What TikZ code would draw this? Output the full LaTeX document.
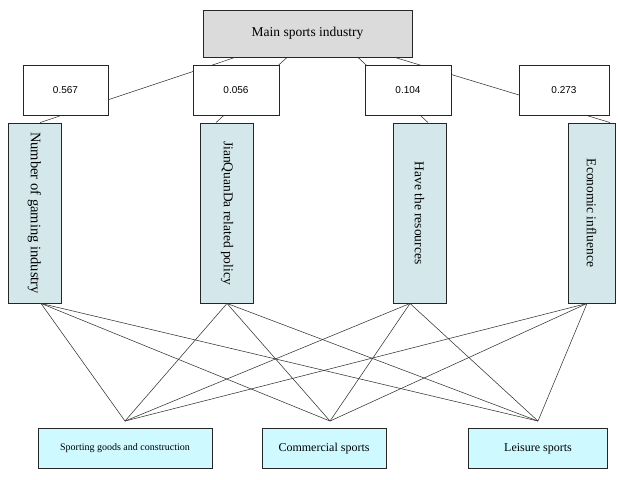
\documentclass[tikz,border=0pt]{standalone}
\usepackage{fontspec}
\setmainfont{Liberation Serif}
\newfontfamily\numfont{Liberation Sans}
\definecolor{critblue}{RGB}{212,231,235}
\definecolor{altcyan}{RGB}{206,250,255}
\tikzset{
  box/.style={draw=black!85,line width=0.9pt,inner sep=1pt,align=center},
  goal/.style={box,fill=black!14,minimum width=209pt,minimum height=47pt,font=\fontsize{13.5}{15}\selectfont},
  weight/.style={box,fill=white,minimum width=86pt,minimum height=50pt,font=\numfont\fontsize{10}{12}\selectfont},
  crit/.style={box,fill=critblue,rotate=-90,minimum width=180pt,minimum height=53pt},
  alt/.style={box,fill=altcyan,minimum height=40pt},
  link/.style={black!80,line width=0.55pt}
}
\begin{document}
\begin{tikzpicture}[x=1pt,y=-1pt]
\useasboundingbox (0,0) rectangle (618,479);
% goal and criteria
\node[goal](main)at(307.5,33.5){Main sports industry};
\node[crit,font=\fontsize{14.5}{16}\selectfont](c1)at(34.5,213){Number of gaming industry};
\node[crit,font=\fontsize{13.5}{15}\selectfont](c2)at(227,213){JianQuanDa related policy};
\node[crit,font=\fontsize{13.5}{15}\selectfont](c3)at(419.5,213){Have the resources};
\node[crit,font=\fontsize{13.5}{15}\selectfont,minimum height=47pt](c4)at(591.5,213){Economic influence};
% alternatives
\node[alt,minimum width=174pt,font=\fontsize{10}{12}\selectfont](b1)at(125,448.5){Sporting goods and construction};
\node[alt,minimum width=124pt,font=\fontsize{12}{14}\selectfont](b2)at(324,448.5){Commercial sports};
\node[alt,minimum width=139pt,font=\fontsize{12}{14}\selectfont](b3)at(538,448.5){Leisure sports};
\coordinate(p1)at([yshift=7pt]b1.north);
\coordinate(p2)at([xshift=6pt,yshift=7pt]b2.north);
\coordinate(p3)at([yshift=7pt]b3.north);
\coordinate(q1)at([xshift=6.5pt]c1.east);
\coordinate(q2)at(c2.east);
\coordinate(q3)at([xshift=-9.5pt]c3.east);
\coordinate(q4)at([xshift=-4.5pt]c4.east);
% links
\draw[link]([xshift=-72.5pt]main.south)--([xshift=5.5pt]c1.west);
\draw[link]([xshift=-20.5pt]main.south)--([xshift=-11pt]c2.west);
\draw[link]([xshift=50.5pt]main.south)--([xshift=8.5pt]c3.west);
\draw[link]([xshift=87.5pt]main.south)--([xshift=18.5pt]c4.west);
\foreach \q in {q1,q2,q3,q4}
  \foreach \p in {p1,p2,p3}
    \draw[link](\q)--(\p);
% weights
\node[weight,minimum width=85pt](w1)at(65.5,90){0.567};
\node[weight](w2)at(236,90){0.056};
\node[weight](w3)at(408,90){0.104};
\node[weight,minimum width=90pt](w4)at(564,90){0.273};
\end{tikzpicture}
\end{document}
